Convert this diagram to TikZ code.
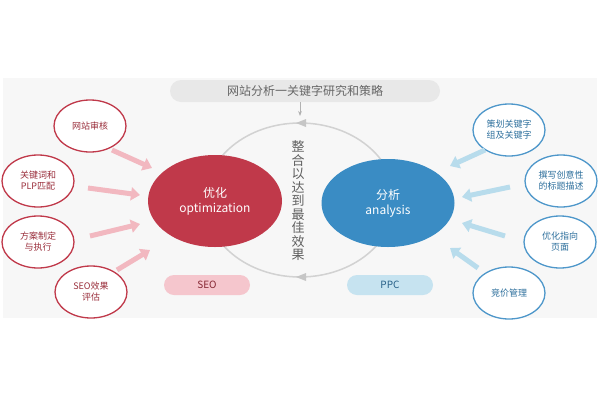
\documentclass[tikz,border=0pt]{standalone}
\usepackage{fontspec}
\setmainfont{Noto Sans CJK SC}
\usetikzlibrary{arrows.meta,shapes.geometric}
\definecolor{rd}{HTML}{C0394A}
\definecolor{bl}{HTML}{3A8CC4}
\definecolor{pk}{HTML}{F2B8C0}
\definecolor{lb}{HTML}{B8DCEC}
\tikzset{
 rsm/.style={draw=rd,line width=1.3pt,ellipse,fill=white,minimum width=72pt,minimum height=52pt,inner sep=0pt,font=\fontsize{9}{11}\selectfont,text=rd!80!black,align=center},
 bsm/.style={draw=bl!90,line width=1.3pt,ellipse,fill=white,minimum width=72pt,minimum height=52pt,inner sep=0pt,font=\fontsize{9}{11}\selectfont,text=bl!80!black,align=center},
 parr/.style={pk,line width=5pt,-{Triangle[length=9pt,width=13pt]}},
 barr/.style={lb,line width=5pt,-{Triangle[length=9pt,width=13pt]}},
 pill/.style={rounded corners=10pt,minimum width=86pt,minimum height=20pt,font=\fontsize{10}{11}\selectfont}
}
\begin{document}
\begin{tikzpicture}[x=1pt,y=-1pt]
\useasboundingbox (0,0) rectangle (600,400);
\fill[white] (0,0) rectangle (600,400);
\fill[gray!6] (3,78) rectangle (597,318);
\node[fill=gray!18,rounded corners=11pt,minimum width=270pt,minimum height=22pt,text=gray!80!black,font=\fontsize{12}{13}\selectfont] (title) at (305,91) {网站分析一关键字研究和策略};
\draw[gray!35,line width=1.5pt] (300,200) ellipse (95 and 77);
\fill[gray!45] (296,123) -- (306,119) -- (306,127) -- cycle;
\fill[gray!45] (296,277) -- (306,273) -- (306,281) -- cycle;
\coordinate (ct) at (300,116);
\draw[gray!60,line width=1pt,-{Stealth[length=5pt]}] (title.south -| ct) -- (ct);
\node[font=\fontsize{13}{13.5}\selectfont,text=gray!75!black,align=center,inner sep=0pt] (v) at (298,201) {整\\合\\以\\达\\到\\最\\佳\\效\\果};
\node[ellipse,fill=rd,minimum width=134pt,minimum height=92pt,text=white,align=center,font=\fontsize{12}{15}\selectfont] (opt) at (215,201) {优化\\optimization};
\node[ellipse,fill=bl,minimum width=133pt,minimum height=88pt,text=white,align=center,font=\fontsize{12}{15}\selectfont] (ana) at (388,203) {分析\\analysis};
\node[pill,fill=pk!80,text=rd!70!black] (seo) at (207,285) {SEO};
\node[pill,fill=lb!80,text=bl!70!black] (ppc) at (390,285) {PPC};
\node[rsm] (l1) at (90,126) {网站审核};
\node[rsm] (l2) at (38,181) {关键词和\\PLP匹配};
\node[rsm] (l3) at (38,242) {方案制定\\与执行};
\node[rsm] (l4) at (91,292) {SEO效果\\评估};
\node[bsm] (r1) at (509,130) {策划关键字\\组及关键字};
\node[bsm] (r2) at (561,181) {撰写创意性\\的标题描述};
\node[bsm] (r3) at (560,242) {优化指向\\页面};
\node[bsm] (r4) at (509,293) {竞价管理};
\coordinate (s1) at (112,150); \coordinate (a1) at (152,168);
\coordinate (s2) at (88,188);  \coordinate (a2) at (140,195);
\coordinate (s3) at (90,236);  \coordinate (a3) at (140,224);
\coordinate (s4) at (117,270); \coordinate (a4) at (150,250);
\coordinate (t1) at (485,150); \coordinate (b1) at (450,166);
\coordinate (t2) at (510,187); \coordinate (b2) at (462,197);
\coordinate (t3) at (505,236); \coordinate (b3) at (462,223);
\coordinate (t4) at (478,268); \coordinate (b4) at (450,248);
\draw[parr] (s1) -- (a1); \draw[parr] (s2) -- (a2);
\draw[parr] (s3) -- (a3); \draw[parr] (s4) -- (a4);
\draw[barr] (t1) -- (b1); \draw[barr] (t2) -- (b2);
\draw[barr] (t3) -- (b3); \draw[barr] (t4) -- (b4);
\end{tikzpicture}
\end{document}
